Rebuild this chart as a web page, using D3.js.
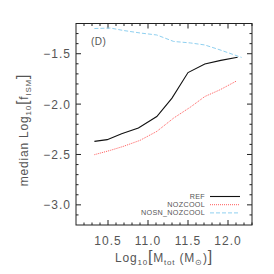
<!DOCTYPE html>
<html>
<head>
<meta charset="utf-8">
<script src="https://cdn.jsdelivr.net/npm/d3@7"></script>
<style>
  body { margin: 0; background: #fff; }
  svg text { font-family: "Liberation Sans", Arial, sans-serif; fill: #555; }
</style>
</head>
<body>
<svg id="chart" width="274" height="274"></svg>
<script>
const margin = {top: 23.5, right: 22, bottom: 49, left: 76};
const width = 274 - margin.left - margin.right;
const height = 274 - margin.top - margin.bottom;

const refX = [10.33, 10.49, 10.67, 10.88, 11.11, 11.30, 11.50, 11.71, 11.91, 12.12];
const refY = [-2.370, -2.353, -2.294, -2.238, -2.123, -1.941, -1.687, -1.601, -1.566, -1.535];
const nozX = [10.33, 10.53, 10.69, 10.90, 11.11, 11.32, 11.53, 11.71, 11.90, 12.11];
const nozY = [-2.502, -2.459, -2.420, -2.360, -2.271, -2.139, -2.030, -1.925, -1.858, -1.769];
const nosnX = [10.33, 10.53, 10.69, 10.90, 11.11, 11.32, 11.53, 11.71, 11.90, 12.17];
const nosnY = [-1.250, -1.245, -1.269, -1.294, -1.314, -1.378, -1.393, -1.413, -1.462, -1.537];

const xTicks = [10.5, 11.0, 11.5, 12.0];
const yTicks = [-1.5, -2.0, -2.5, -3.0];

const series = [
  { label: "REF", xs: refX, ys: refY, color: "#111", dash: null, w: 1.1 },
  { label: "NOZCOOL", xs: nozX, ys: nozY, color: "#ff5a5a", dash: "1,1", w: 1 },
  { label: "NOSN_NOZCOOL", xs: nosnX, ys: nosnY, color: "#8fd0f0", dash: "4,2", w: 1 }
];

const svg = d3.select("#chart");
const g = svg.append("g").attr("transform", `translate(${margin.left},${margin.top})`);

const x = d3.scaleLinear().domain([10.1, 12.3]).range([0, width]);
const y = d3.scaleLinear().domain([-3.2, -1.2]).range([height, 0]);

const minorX = d3.range(10.2, 12.3, 0.1).map(v => +v.toFixed(1));
const minorY = d3.range(-3.1, -1.2, 0.1).map(v => +v.toFixed(1));
const axisCol = "#222";

// frame
g.append("rect").attr("width", width).attr("height", height)
  .attr("fill", "none").attr("stroke", axisCol).attr("stroke-width", 1);

// ticks on all four sides, pointing inward
minorX.forEach(v => {
  const major = xTicks.some(t => Math.abs(t - v) < 1e-6);
  const len = major ? 5 : 2.5;
  g.append("line").attr("x1", x(v)).attr("x2", x(v)).attr("y1", height).attr("y2", height - len).attr("stroke", axisCol);
  g.append("line").attr("x1", x(v)).attr("x2", x(v)).attr("y1", 0).attr("y2", len).attr("stroke", axisCol);
});
minorY.forEach(v => {
  const major = yTicks.some(t => Math.abs(t - v) < 1e-6);
  const len = major ? 5 : 2.5;
  g.append("line").attr("x1", 0).attr("x2", len).attr("y1", y(v)).attr("y2", y(v)).attr("stroke", axisCol);
  g.append("line").attr("x1", width).attr("x2", width - len).attr("y1", y(v)).attr("y2", y(v)).attr("stroke", axisCol);
});

// tick labels
xTicks.forEach(v => {
  g.append("text").attr("x", x(v)).attr("y", height + 20)
    .attr("text-anchor", "middle").style("font-size", "12px").style("letter-spacing", "1px")
    .text(v.toFixed(1));
});
yTicks.forEach(v => {
  g.append("text").attr("x", -5).attr("y", y(v) + 4.5)
    .attr("text-anchor", "end").style("font-size", "12px").style("letter-spacing", "1px")
    .text("\u2212" + Math.abs(v).toFixed(1));
});

// lines
const line = d3.line().x(d => x(d[0])).y(d => y(d[1]));
series.forEach(s => {
  g.append("path")
    .datum(s.xs.map((v, i) => [v, s.ys[i]]))
    .attr("fill", "none")
    .attr("stroke", s.color)
    .attr("stroke-width", s.w)
    .attr("stroke-dasharray", s.dash)
    .attr("d", line);
});

// panel label
g.append("text").attr("x", 15).attr("y", 21).style("font-size", "10px").style("letter-spacing", "0.5px").text("(D)");

// legend
series.forEach((s, i) => {
  const ly = 173 + i * 8.2;
  g.append("text").attr("x", 129).attr("y", ly + 2.5)
    .attr("text-anchor", "end").style("font-size", "7.2px").style("letter-spacing", "0.3px").text(s.label);
  g.append("line").attr("x1", 134).attr("x2", 164).attr("y1", ly).attr("y2", ly)
    .attr("stroke", s.color).attr("stroke-width", s.w).attr("stroke-dasharray", s.dash);
});

// x title
const xt = svg.append("text").attr("x", 164).attr("y", 262)
  .attr("text-anchor", "middle").style("font-size", "12px").style("letter-spacing", "0.8px");
xt.append("tspan").text("Log");
xt.append("tspan").attr("dy", 3).style("font-size", "8px").text("10");
xt.append("tspan").attr("dy", -3).style("font-size", "16px").text("[");
xt.append("tspan").text("M");
xt.append("tspan").attr("dy", 3).style("font-size", "8px").text("tot");
xt.append("tspan").attr("dy", -3).text(" (M");
xt.append("tspan").attr("dy", 3).style("font-size", "8px").text("\u2299");
xt.append("tspan").attr("dy", -3).text(")");
xt.append("tspan").style("font-size", "16px").text("]");

// y title
const yt = svg.append("text").attr("transform", "translate(28,130) rotate(-90)")
  .attr("text-anchor", "middle").style("font-size", "12px").style("letter-spacing", "0.8px");
yt.append("tspan").text("median Log");
yt.append("tspan").attr("dy", 3).style("font-size", "8px").text("10");
yt.append("tspan").attr("dy", -3).style("font-size", "16px").text("[");
yt.append("tspan").text("f");
yt.append("tspan").attr("dy", 3).style("font-size", "8px").text("ISM");
yt.append("tspan").attr("dy", -3).style("font-size", "16px").text("]");
</script>
</body>
</html>
